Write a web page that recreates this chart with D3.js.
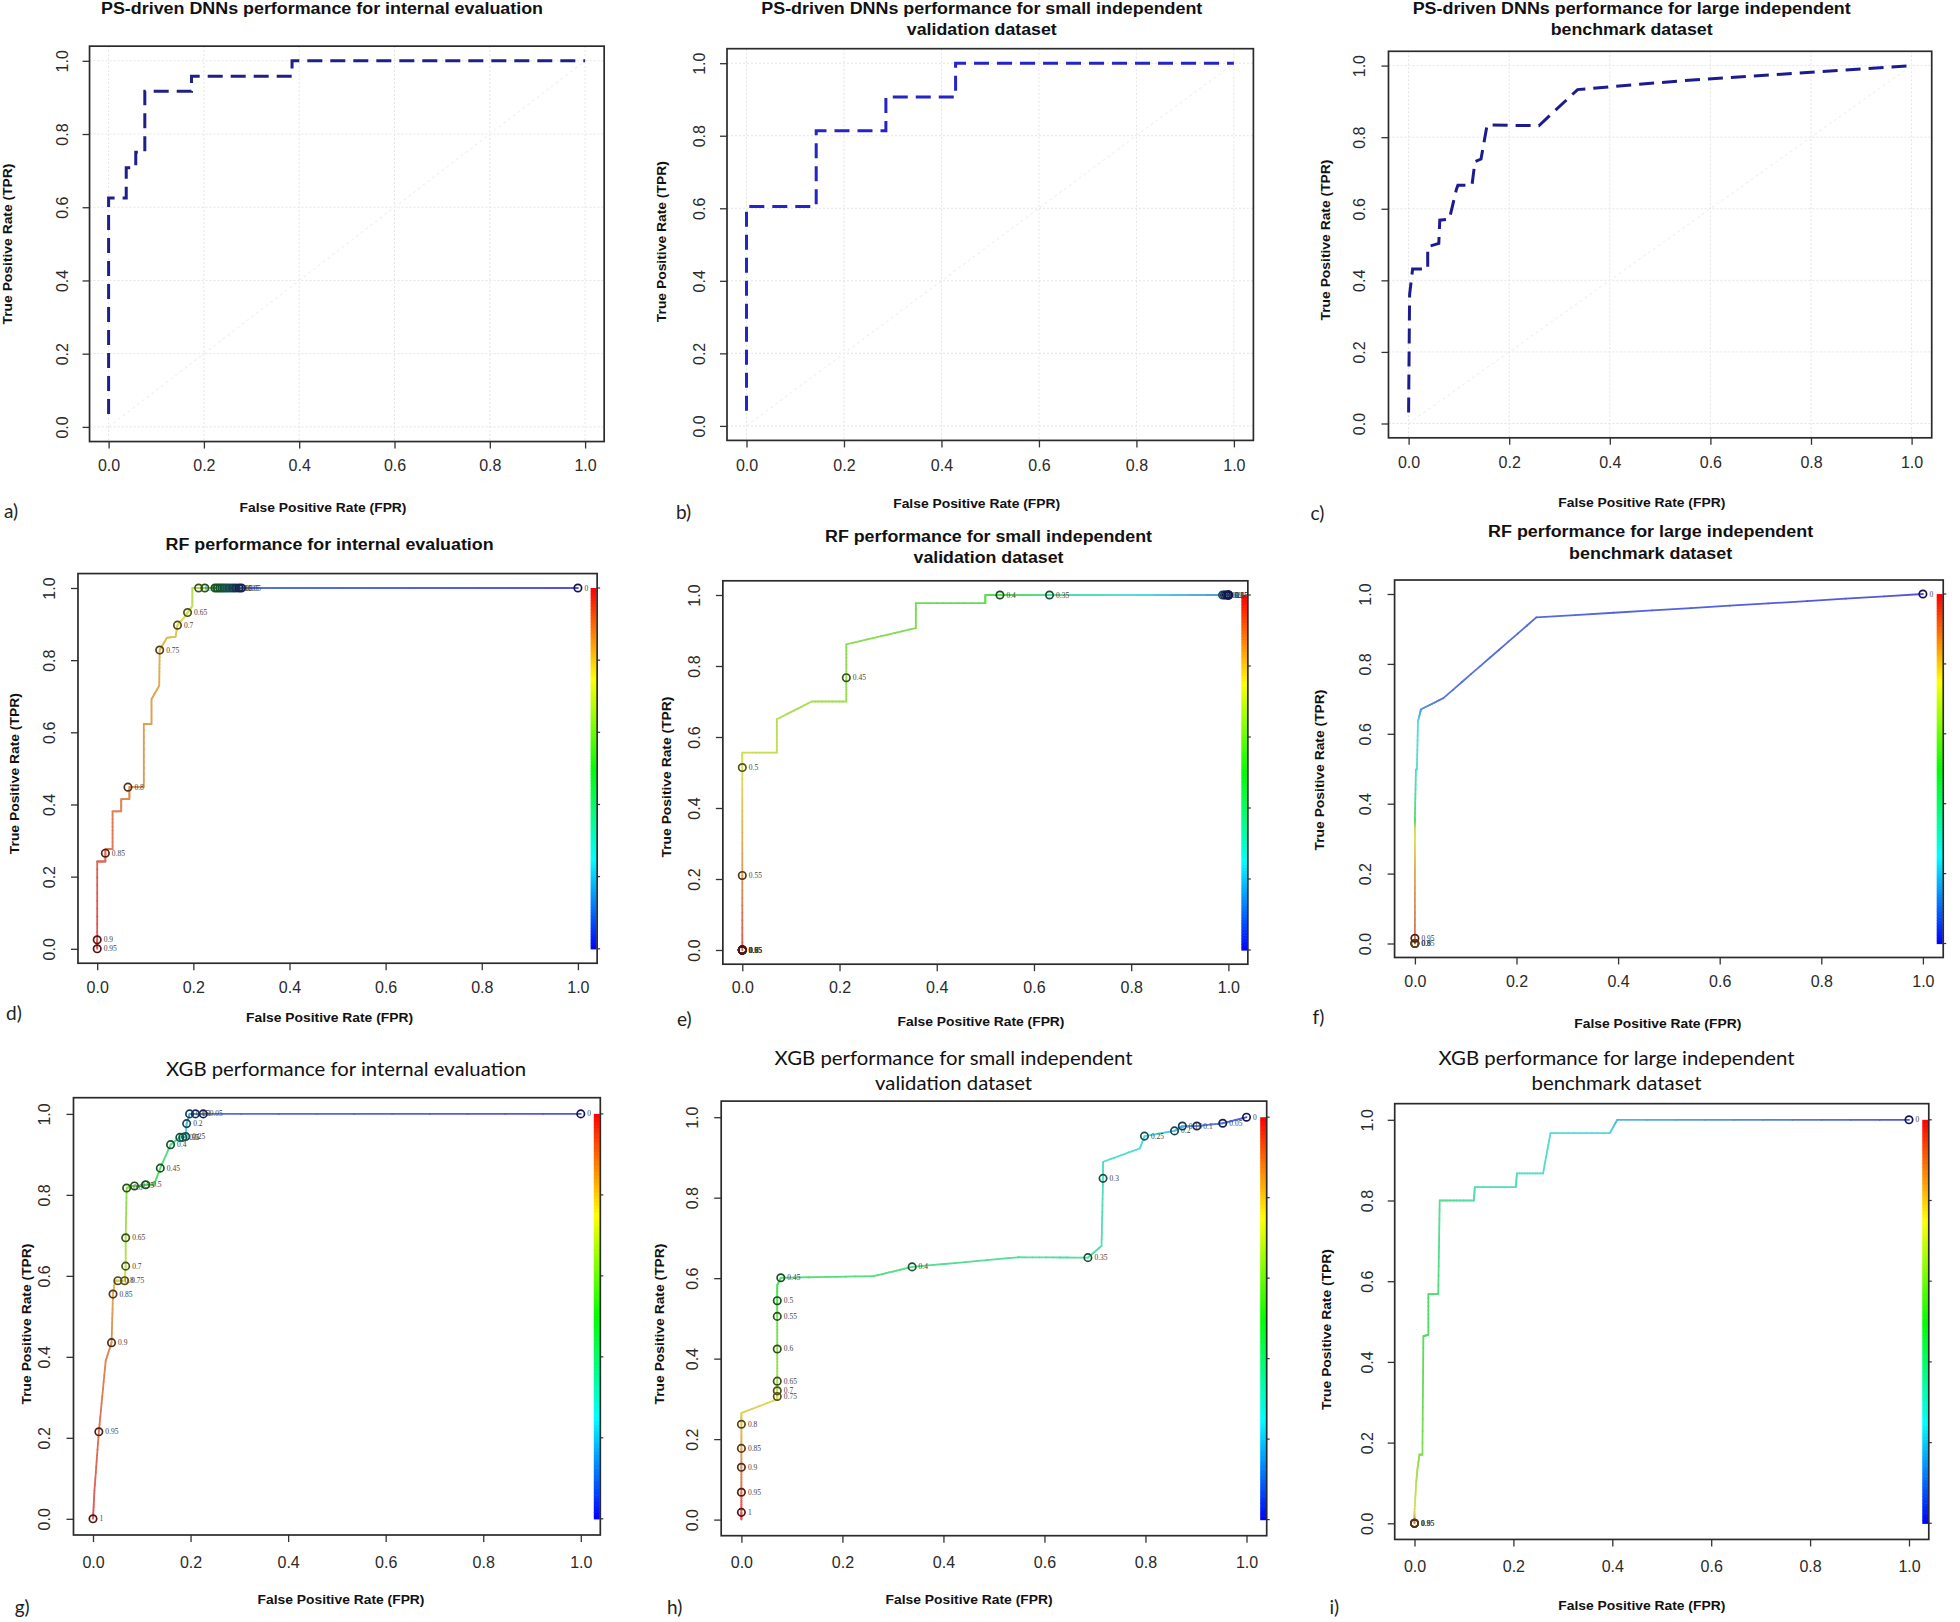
<!DOCTYPE html>
<html><head><meta charset="utf-8">
<script src="https://cdn.jsdelivr.net/npm/d3@7"></script>
<style>body{margin:0;background:#fff}</style>
</head><body>
<svg id="chart" width="1960" height="1622"></svg>
<script>
// ---------- DATA ----------
const tickValues = [0, 0.2, 0.4, 0.6, 0.8, 1.0];
const tickLabels = ["0.0", "0.2", "0.4", "0.6", "0.8", "1.0"];
const xAxisTitle = "False Positive Rate (FPR)";
const yAxisTitle = "True Positive Rate (TPR)";

// PS-driven DNNs ROC curves [FPR, TPR]
const dnnInternalROC = [[0,0.035],[0,0.625],[0.037,0.625],[0.037,0.708],[0.057,0.708],[0.057,0.75],[0.076,0.75],[0.076,0.917],[0.174,0.917],[0.174,0.958],[0.385,0.958],[0.385,1],[1,1]];
const dnnSmallROC = [[0,0.042],[0,0.605],[0.143,0.605],[0.143,0.814],[0.286,0.814],[0.286,0.907],[0.429,0.907],[0.429,1],[1,1]];
const dnnLargeROC = [[0,0.031],[0.002,0.36],[0.008,0.432],[0.038,0.432],[0.038,0.494],[0.06,0.503],[0.062,0.568],[0.081,0.571],[0.095,0.654],[0.098,0.666],[0.126,0.666],[0.132,0.732],[0.144,0.739],[0.156,0.834],[0.259,0.832],[0.336,0.933],[0.537,0.957],[1,1]];

// RF ROC curves [FPR, TPR, cutoff]
const rfInternalROC = [[0,0,0.95],[0,0.025,0.9],[0,0.242,0.87],[0.017,0.242,0.86],[0.017,0.276,0.85],[0.032,0.276,0.84],[0.032,0.381,0.83],[0.05,0.381,0.82],[0.05,0.415,0.815],[0.067,0.415,0.81],[0.067,0.449,0.8],[0.097,0.449,0.79],[0.097,0.623,0.78],[0.113,0.623,0.775],[0.113,0.692,0.77],[0.129,0.729,0.76],[0.13,0.828,0.75],[0.145,0.862,0.73],[0.163,0.865,0.72],[0.167,0.897,0.7],[0.183,0.922,0.67],[0.188,0.932,0.65],[0.198,0.95,0.63],[0.198,1,0.61],[0.211,1,0.6],[0.3,1,0.05],[1,1,0]];
const rfInternalCutoffs = [[0,0,"0.95"],[0,0.025,"0.9"],[0.017,0.265,"0.85"],[0.064,0.448,"0.8"],[0.13,0.828,"0.75"],[0.167,0.897,"0.7"],[0.188,0.932,"0.65"],[0.211,1,"0.6"],[0.224,1,"0.55"],[0.245,1,"0.5"],[0.25,1,"0.45"],[0.255,1,"0.4"],[0.26,1,"0.35"],[0.265,1,"0.3"],[0.27,1,"0.25"],[0.276,1,"0.2"],[0.282,1,"0.15"],[0.288,1,"0.1"],[0.295,1,"0.05"],[0.3,1,"0.05"],[1,1,"0"]];

const rfSmallROC = [[0,0,0.6],[0,0.21,0.55],[0,0.514,0.5],[0,0.556,0.49],[0.071,0.556,0.48],[0.071,0.65,0.47],[0.143,0.7,0.46],[0.214,0.7,0.455],[0.214,0.767,0.45],[0.214,0.861,0.44],[0.357,0.907,0.43],[0.357,0.977,0.42],[0.5,0.977,0.41],[0.5,1,0.405],[0.53,1,0.4],[0.632,1,0.35],[0.99,1,0.25],[1,1,0.2]];
const rfSmallCutoffs = [[0,0,"1"],[0,0,"0.95"],[0,0,"0.9"],[0,0,"0.85"],[0,0,"0.8"],[0,0,"0.75"],[0,0,"0.7"],[0,0,"0.65"],[0,0,"0.6"],[0,0.21,"0.55"],[0,0.514,"0.5"],[0.214,0.767,"0.45"],[0.53,1,"0.4"],[0.632,1,"0.35"],[0.988,1,"0.3"],[0.992,1,"0.25"],[0.996,1,"0.2"],[1,1,"0.15"],[1,1,"0.1"],[1,1,"0.05"],[1,1,"0"]];

const rfLargeROC = [[0,0,1],[0,0.015,0.95],[0,0.2,0.85],[0,0.27,0.78],[0,0.33,0.72],[0,0.36,0.45],[0.002,0.496,0.3],[0.004,0.5,0.28],[0.006,0.635,0.25],[0.012,0.67,0.12],[0.056,0.702,0.06],[0.239,0.933,0.04],[1,1,0]];
const rfLargeCutoffs = [[0,0,"0.9"],[0,0,"0.85"],[0,0,"0.8"],[0,0.015,"0.95"],[1,1,"0"]];

// XGB ROC curves [FPR, TPR, cutoff]
const xgbInternalROC = [[0,0,1],[0.003,0.07,0.97],[0.012,0.215,0.95],[0.026,0.39,0.91],[0.038,0.435,0.9],[0.041,0.555,0.85],[0.045,0.588,0.82],[0.051,0.588,0.8],[0.065,0.588,0.75],[0.067,0.624,0.7],[0.067,0.694,0.65],[0.069,0.817,0.6],[0.081,0.822,0.57],[0.1,0.822,0.55],[0.108,0.825,0.5],[0.125,0.825,0.48],[0.138,0.866,0.45],[0.159,0.924,0.4],[0.178,0.942,0.35],[0.184,0.942,0.3],[0.19,0.944,0.25],[0.192,0.976,0.2],[0.198,1,0.15],[0.21,1,0.1],[0.226,1,0.05],[1,1,0]];
const xgbInternalCutoffs = [[0,0,"1"],[0.012,0.215,"0.95"],[0.038,0.435,"0.9"],[0.041,0.555,"0.85"],[0.051,0.588,"0.8"],[0.065,0.588,"0.75"],[0.067,0.624,"0.7"],[0.067,0.694,"0.65"],[0.069,0.817,"0.6"],[0.085,0.822,"0.55"],[0.108,0.825,"0.5"],[0.138,0.866,"0.45"],[0.159,0.924,"0.4"],[0.178,0.942,"0.35"],[0.184,0.942,"0.3"],[0.19,0.944,"0.25"],[0.192,0.976,"0.2"],[0.198,1,"0.15"],[0.21,1,"0.1"],[0.226,1,"0.05"],[1,1,"0"]];

const xgbSmallROC = [[0,0,1],[0,0.018,0.99],[0,0.068,0.95],[0,0.13,0.9],[0,0.177,0.85],[0,0.237,0.8],[0,0.265,0.78],[0.071,0.299,0.76],[0.071,0.306,0.75],[0.071,0.32,0.7],[0.071,0.344,0.65],[0.071,0.424,0.6],[0.071,0.505,0.55],[0.071,0.544,0.5],[0.071,0.583,0.47],[0.078,0.601,0.45],[0.262,0.605,0.42],[0.338,0.628,0.4],[0.549,0.652,0.37],[0.686,0.651,0.35],[0.713,0.68,0.33],[0.716,0.848,0.3],[0.716,0.889,0.29],[0.789,0.9225,0.27],[0.798,0.953,0.25],[0.8575,0.966,0.2],[0.873,0.978,0.15],[0.9017,0.978,0.1],[0.953,0.985,0.05],[1,1,0]];
const xgbSmallCutoffs = [[0,0.018,"1"],[0,0.068,"0.95"],[0,0.13,"0.9"],[0,0.177,"0.85"],[0,0.237,"0.8"],[0.071,0.306,"0.75"],[0.071,0.32,"0.7"],[0.071,0.344,"0.65"],[0.071,0.424,"0.6"],[0.071,0.505,"0.55"],[0.071,0.544,"0.5"],[0.078,0.601,"0.45"],[0.338,0.628,"0.4"],[0.686,0.651,"0.35"],[0.716,0.848,"0.3"],[0.798,0.953,"0.25"],[0.8575,0.966,"0.2"],[0.873,0.978,"0.15"],[0.9017,0.978,"0.1"],[0.953,0.985,"0.05"],[1,1,"0"]];

const xgbLargeROC = [[0,0,0.95],[0,0.029,0.75],[0.0034,0.1,0.68],[0.006,0.135,0.64],[0.01,0.17,0.6],[0.016,0.17,0.58],[0.018,0.464,0.5],[0.028,0.467,0.47],[0.028,0.568,0.45],[0.048,0.568,0.42],[0.051,0.8,0.38],[0.12,0.8,0.35],[0.122,0.833,0.33],[0.205,0.833,0.31],[0.207,0.867,0.3],[0.26,0.867,0.29],[0.275,0.967,0.27],[0.395,0.967,0.24],[0.41,1,0.18],[1,1,0]];
const xgbLargeCutoffs = [[0,0,"1"],[0,0,"0.95"],[0,0,"0.9"],[0,0,"0.85"],[1,1,"0"]];

// ---------- PANELS (layout / style) ----------
const panels = [
  {letter:"a)", title:["PS-driven DNNs performance for internal evaluation"], tw:[442], roc:dnnInternalROC, dashColor:"#1f1f88",
   x0:108.6,x1:585.1,y0:426.9,y1:60.8, tY:[8.5], tX:322, xlab:[323,507], ylab:[7.6,244], let:[4,510], ytX:62, xtY:466},
  {letter:"b)", title:["PS-driven DNNs performance for small independent","validation dataset"], tw:[441,150], roc:dnnSmallROC, dashColor:"#2424c8",
   x0:746.5,x1:1233.9,y0:425.9,y1:63.2, tY:[8.5,29.7], tX:981.8, xlab:[976.7,503.6], ylab:[661,241.7], let:[676,511], ytX:699, xtY:465.8},
  {letter:"c)", title:["PS-driven DNNs performance for large independent","benchmark dataset"], tw:[438,162], roc:dnnLargeROC, dashColor:"#1c1c90",
   x0:1408.6,x1:1911.6,y0:423.5,y1:65.6, tY:[8.5,29.7], tX:1631.7, xlab:[1641.8,502.6], ylab:[1325,240], let:[1310.5,512], ytX:1359, xtY:462.4},
  {letter:"d)", title:["RF performance for internal evaluation"], tw:[328], roc:rfInternalROC, cuts:rfInternalCutoffs, dom:[0,0.9],
   x0:97.2,x1:577.9,y0:948.8,y1:588, tY:[544.9], tX:329.6, xlab:[329.6,1017.5], ylab:[14.7,773.7], let:[6,1012.5], ytX:49.7, xtY:987.6},
  {letter:"e)", title:["RF performance for small independent","validation dataset"], tw:[327,150], roc:rfSmallROC, cuts:rfSmallCutoffs, dom:[0.2,0.6],
   x0:742.3,x1:1228.4,y0:950,y1:595, tY:[536.2,557.9], tX:988.5, xlab:[981,1021.3], ylab:[666,777], let:[677,1018.6], ytX:694.7, xtY:988},
  {letter:"f)", title:["RF performance for large independent","benchmark dataset"], tw:[325,163], roc:rfLargeROC, cuts:rfLargeCutoffs, dom:[0,1],
   x0:1414.9,x1:1922.9,y0:943.5,y1:594, tY:[531.8,553.1], tX:1650.6, xlab:[1657.8,1023.6], ylab:[1319,770], let:[1312.6,1016.9], ytX:1365, xtY:981.4},
  {letter:"g)", title:["XGB performance for internal evaluation"], tw:[360], light:true, roc:xgbInternalROC, cuts:xgbInternalCutoffs, dom:[0,1],
   x0:93,x1:580.8,y0:1518.8,y1:1113.9, tY:[1067.8], tX:346, xlab:[341,1599.4], ylab:[26,1324], let:[14.7,1606], ytX:44, xtY:1562.6},
  {letter:"h)", title:["XGB performance for small independent","validation dataset"], tw:[358,157], light:true, roc:xgbSmallROC, cuts:xgbSmallCutoffs, dom:[0,1],
   x0:741.4,x1:1246.5,y0:1519.6,y1:1117.2, tY:[1056.7,1081.6], tX:953.6, xlab:[969.1,1599.4], ylab:[659,1324], let:[667,1606], ytX:692.6, xtY:1562.6},
  {letter:"i)", title:["XGB performance for large independent","benchmark dataset"], tw:[356,170], light:true, roc:xgbLargeROC, cuts:xgbLargeCutoffs, dom:[0,1],
   x0:1414.5,x1:1909,y0:1523.3,y1:1119.8, tY:[1056.7,1081.6], tX:1616.5, xlab:[1641.8,1605], ylab:[1326,1329.5], let:[1329.5,1606], ytX:1367, xtY:1567}
];

const svg = d3.select("#chart");
svg.append("rect").attr("width",1960).attr("height",1622).attr("fill","#fff");

const clamp01 = t => Math.max(0, Math.min(1, t));
const rainbow = t => d3.hsl((1 - clamp01(t)) * 240, 1, 0.5);
const mutedRainbow = t => d3.hsl((1 - clamp01(t)) * 240, 0.68, 0.6);

function drawPanel(p) {
  const x = d3.scaleLinear().domain([0,1]).range([p.x0, p.x1]);
  const y = d3.scaleLinear().domain([0,1]).range([p.y0, p.y1]);
  const L = x(-0.04), R = x(1.04), T = y(1.04), B = y(-0.04);
  const g = svg.append("g");
  const colored = !!p.cuts;

  // grid (DNN panels)
  if (!colored) {
    const gg = g.append("g").attr("stroke","#e4e4e4").attr("stroke-width",1).attr("stroke-dasharray","2,2");
    tickValues.forEach(v => {
      gg.append("line").attr("x1",x(v)).attr("x2",x(v)).attr("y1",T).attr("y2",B);
      gg.append("line").attr("x1",L).attr("x2",R).attr("y1",y(v)).attr("y2",y(v));
    });
    g.append("line").attr("x1",x(0)).attr("y1",y(0)).attr("x2",x(1)).attr("y2",y(1))
      .attr("stroke","#f1f1f1").attr("stroke-width",1.2).attr("stroke-dasharray","3,3");
  }

  // axes
  const xa = g.append("g").attr("transform",`translate(0,${B})`)
    .call(d3.axisBottom(x).tickValues(tickValues).tickFormat((d,i)=>tickLabels[i]).tickSize(7).tickSizeOuter(0));
  xa.select(".domain").remove();
  xa.selectAll("line").attr("stroke","#333").attr("stroke-width",1.3);
  xa.selectAll("text").attr("y", p.xtY - B).attr("dy", null).attr("dominant-baseline","central")
    .attr("font-family","Liberation Sans, Arial, sans-serif").attr("font-size",16).attr("fill","#2a2a2a");

  const ya = g.append("g").attr("transform",`translate(${L},0)`)
    .call(d3.axisLeft(y).tickValues(tickValues).tickFormat((d,i)=>tickLabels[i]).tickSize(7).tickSizeOuter(0));
  ya.select(".domain").remove();
  ya.selectAll("line").attr("stroke","#333").attr("stroke-width",1.3);
  ya.selectAll("text").attr("x", null).attr("dy", null).attr("text-anchor","middle").attr("dominant-baseline","central")
    .attr("transform", `translate(${p.ytX - L},0) rotate(-90)`)
    .attr("font-family","Liberation Sans, Arial, sans-serif").attr("font-size",16).attr("fill","#2a2a2a");

  // curve
  if (!colored) {
    g.append("path").datum(p.roc)
      .attr("d", d3.line().x(d=>x(d[0])).y(d=>y(d[1])))
      .attr("fill","none").attr("stroke",p.dashColor).attr("stroke-width",3)
      .attr("stroke-dasharray","15,8");
  } else {
    const norm = d3.scaleLinear().domain(p.dom).range([0,1]);
    // colour bar
    const cb = g.append("g");
    const n = 120;
    for (let k = 0; k < n; k++) {
      const t0 = k / n, t1 = (k + 1) / n;
      cb.append("rect").attr("x", R - 6.5).attr("width", 6)
        .attr("y", y(t1)).attr("height", Math.abs(y(t0) - y(t1)) + 0.6)
        .attr("fill", rainbow((t0 + t1) / 2));
    }
    tickValues.forEach(v => {
      cb.append("line").attr("x1",R).attr("x2",R+3).attr("y1",y(v)).attr("y2",y(v)).attr("stroke","#333").attr("stroke-width",1.2);
    });
    // coloured ROC line
    const lg = g.append("g").attr("fill","none").attr("stroke-width",1.8).attr("stroke-linecap","round");
    for (let k = 0; k < p.roc.length - 1; k++) {
      const a = p.roc[k], b = p.roc[k+1];
      const m = 10;
      for (let s = 0; s < m; s++) {
        const u0 = s / m, u1 = (s + 1) / m, um = (u0 + u1) / 2;
        const c = a[2] + (b[2] - a[2]) * um;
        lg.append("line")
          .attr("x1", x(a[0] + (b[0]-a[0])*u0)).attr("y1", y(a[1] + (b[1]-a[1])*u0))
          .attr("x2", x(a[0] + (b[0]-a[0])*u1)).attr("y2", y(a[1] + (b[1]-a[1])*u1))
          .attr("stroke", mutedRainbow(norm(c)).toString());
      }
    }
    // cutoff markers
    const mg = g.append("g");
    p.cuts.forEach(d => {
      const col = d3.interpolateRgb(rainbow(norm(parseFloat(d[2]))).toString(), "#1a1a1a")(0.75);
      mg.append("circle").attr("cx", x(d[0])).attr("cy", y(d[1])).attr("r", 3.7)
        .attr("fill","none").attr("stroke", col).attr("stroke-width", 1.7);
      mg.append("text").attr("x", x(d[0]) + 6.5).attr("y", y(d[1])).attr("dominant-baseline","central")
        .attr("font-family","Liberation Serif, serif").attr("font-size",7.5).attr("fill","#444").text(d[2]);
    });
  }

  // box
  g.append("rect").attr("x",L).attr("y",T).attr("width",R-L).attr("height",B-T)
    .attr("fill","none").attr("stroke","#2b2b2b").attr("stroke-width",1.7);

  // titles
  p.title.forEach((t,i) => {
    g.append("text").attr("x",p.tX).attr("y",p.tY[i]).attr("text-anchor","middle").attr("dominant-baseline","central")
      .attr("font-family", p.light ? "Lato, Open Sans, sans-serif" : "Liberation Sans, Arial, sans-serif")
      .attr("font-weight", p.light ? 400 : 700).attr("font-size", p.light ? 20 : 16).attr("fill","#111")
      .attr("textLength", p.tw[i]).attr("lengthAdjust","spacingAndGlyphs").text(t);
  });
  // axis titles
  g.append("text").attr("x",p.xlab[0]).attr("y",p.xlab[1]).attr("text-anchor","middle").attr("dominant-baseline","central")
    .attr("font-family","Liberation Sans, Arial, sans-serif").attr("font-weight",700).attr("font-size",13.5).attr("fill","#111")
    .attr("textLength",167).attr("lengthAdjust","spacingAndGlyphs").text(xAxisTitle);
  g.append("text").attr("transform",`translate(${p.ylab[0]},${p.ylab[1]}) rotate(-90)`)
    .attr("text-anchor","middle").attr("dominant-baseline","central")
    .attr("font-family","Liberation Sans, Arial, sans-serif").attr("font-weight",700).attr("font-size",13.5).attr("fill","#111")
    .attr("textLength",161).attr("lengthAdjust","spacingAndGlyphs").text(yAxisTitle);
  // panel letter
  g.append("text").attr("x",p.let[0]).attr("y",p.let[1]).attr("dominant-baseline","central")
    .attr("font-family","Lato, Open Sans, sans-serif").attr("font-size",19).attr("fill","#222").text(p.letter);
}

panels.forEach(drawPanel);
</script>
</body></html>
